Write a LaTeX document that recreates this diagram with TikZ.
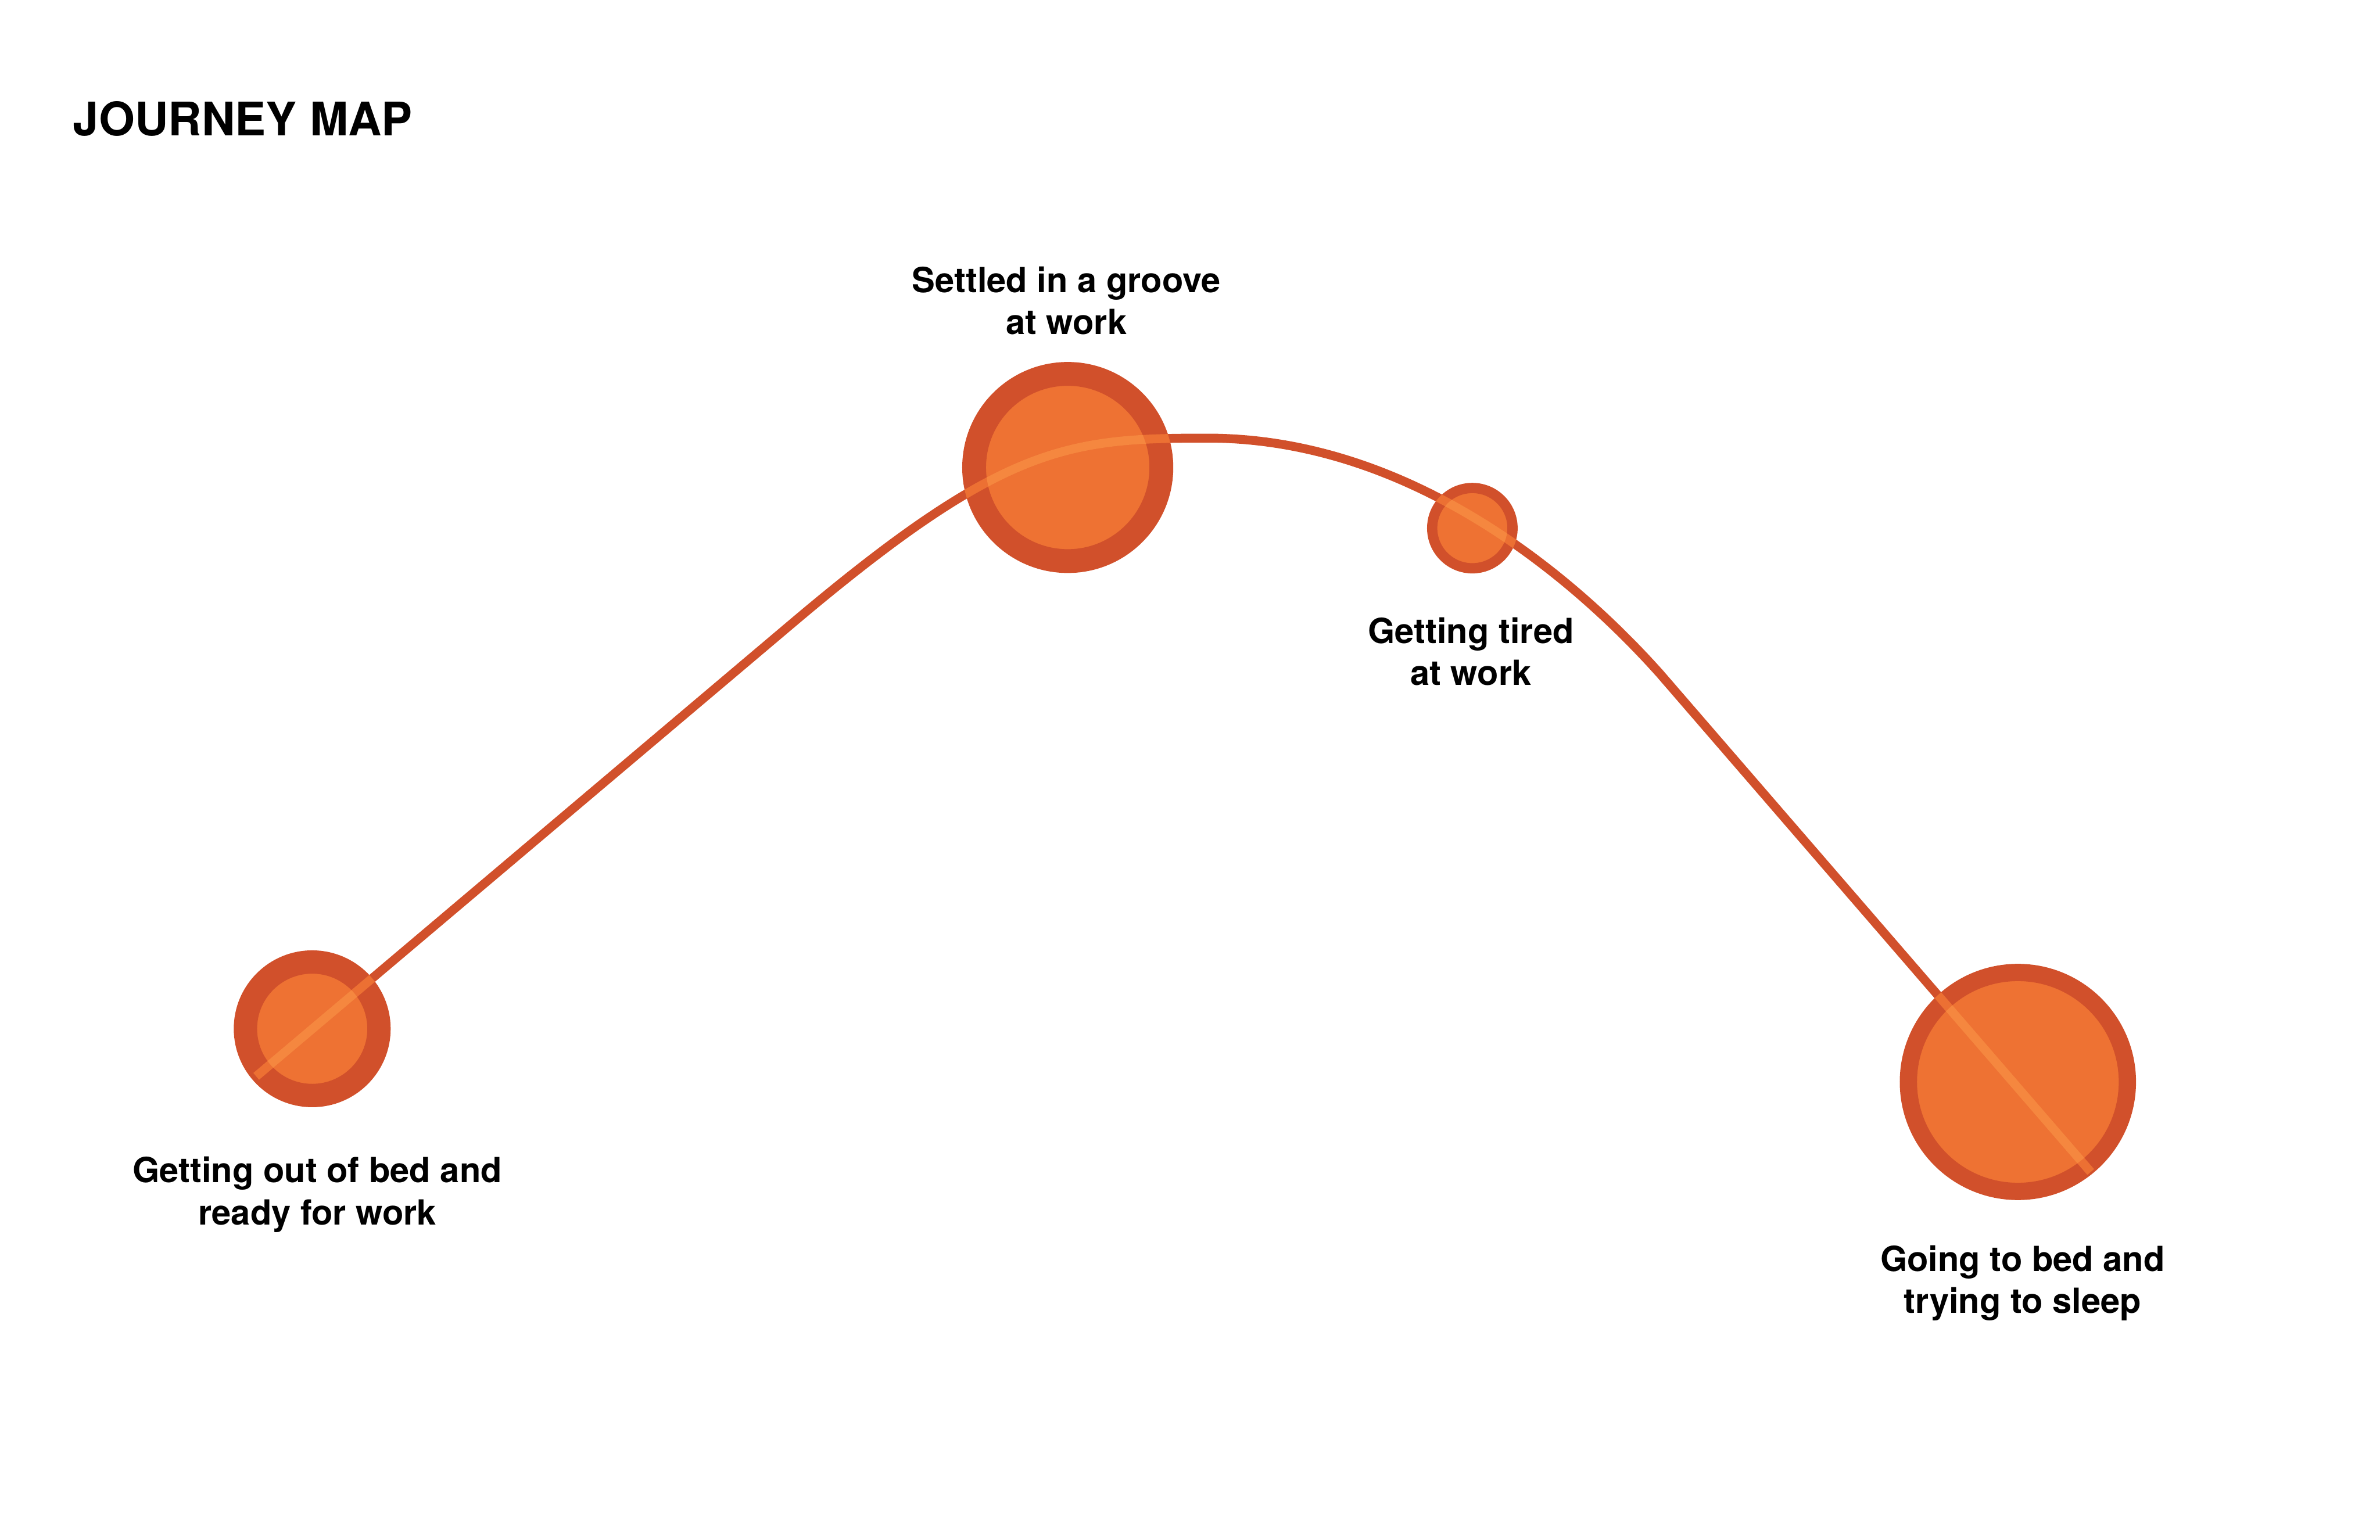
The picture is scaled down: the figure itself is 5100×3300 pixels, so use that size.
\documentclass[tikz,border=0pt]{standalone}
\usepackage{fontspec}
\setmainfont{TeX Gyre Heros}
\definecolor{ringc}{HTML}{D1502B}
\definecolor{fillc}{HTML}{EE7233}
\definecolor{midc}{HTML}{EC7033}
\definecolor{lightc}{HTML}{F5873F}
\begin{document}
\begin{tikzpicture}[x=0.01cm,y=-0.01cm,
  stage/.style={circle, draw=ringc, fill=fillc, inner sep=0pt, outer sep=0pt},
  lbl/.style={align=center, font=\fontsize{21.1}{25.6}\selectfont\bfseries, anchor=base, inner sep=0pt},
  journey/.style={line width=0.19cm, line cap=butt, line join=round}]
\useasboundingbox (0,0) rectangle (5100,3300);
\fill[white] (0,0) rectangle (5100,3300);
\node[anchor=base west, inner sep=0pt, font=\fontsize{28.2}{34}\selectfont\bfseries] (title) at (156,291) {JOURNEY MAP};
% path coordinates
\coordinate (s0) at (549,2307);
\coordinate (s1) at (1700,1334);
\coordinate (a1) at (2150,954);
\coordinate (a2) at (2287,939);
\coordinate (pk) at (2587,939);
\coordinate (b1) at (3037,939);
\coordinate (b2) at (3390,1257);
\coordinate (s2) at (3557,1444);
\coordinate (s3) at (4480,2512);
\def\jpath{(s0) -- (s1) .. controls (a1) and (a2) .. (pk) .. controls (b1) and (b2) .. (s2) -- (s3)}
\draw[journey, ringc] \jpath;
% stages
\node[stage, minimum size=2.86cm, line width=0.50cm] (c1) at (669,2205) {};
\node[stage, minimum size=4.01cm, line width=0.51cm] (c2) at (2288,1002) {};
\node[stage, minimum size=1.72cm, line width=0.22cm] (c3) at (3155,1132) {};
\node[stage, minimum size=4.69cm, line width=0.37cm] (c4) at (4324,2319) {};
% line seen through the rings
\begin{scope}
  \clip (c1.center) circle (168) (c2.center) circle (226) (c3.center) circle (97) (c4.center) circle (253);
  \draw[journey, midc] \jpath;
\end{scope}
\begin{scope}
  \clip (c1.center) circle (118) (c2.center) circle (175) (c3.center) circle (75) (c4.center) circle (216);
  \draw[journey, lightc] \jpath;
\end{scope}
% labels (base anchor = baseline of the last line)
\node[lbl] (l1) at (680,2625) {Getting out of bed and\\ready for work};
\node[lbl] (l2) at (2285,717) {Settled in a groove\\at work};
\node[lbl] (l3) at (3152,1469) {Getting tired\\at work};
\node[lbl] (l4) at (4334,2815) {Going to bed and\\trying to sleep};
\end{tikzpicture}
\end{document}
